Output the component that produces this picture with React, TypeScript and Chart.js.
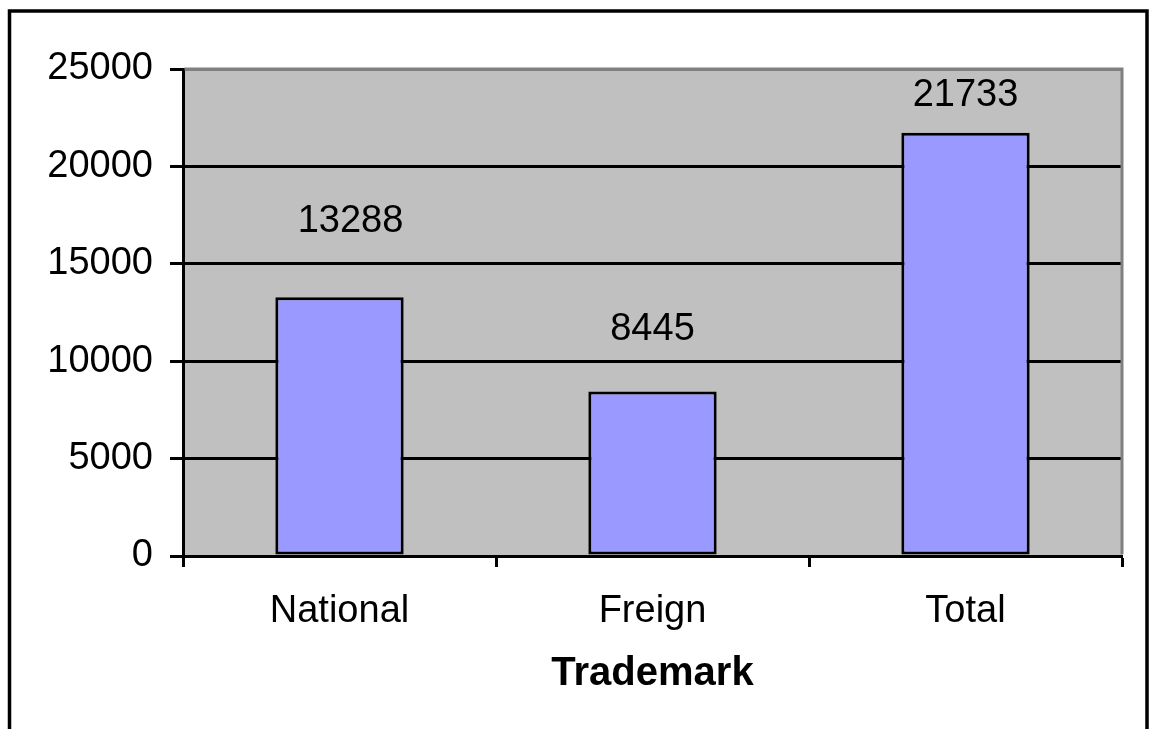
import React, { useEffect, useRef } from "react";
import { Chart, registerables } from "chart.js";

Chart.register(...registerables);

const categories = ["National", "Freign", "Total"];
const values = [13288, 8445, 21733];
const yTicks = [0, 5000, 10000, 15000, 20000, 25000];
const axisTitle = "Trademark";

const FONT = "'Liberation Sans', Arial, sans-serif";
const FS = 38;

const framePlugin = {
  id: "framePlugin",
  beforeDraw(chart: any) {
    const { ctx, chartArea } = chart;
    ctx.save();
    ctx.fillStyle = "#ffffff";
    ctx.fillRect(0, 0, chart.width, chart.height);
    ctx.fillStyle = "#C0C0C0";
    ctx.fillRect(chartArea.left, chartArea.top, chartArea.right - chartArea.left, chartArea.bottom - chartArea.top);
    ctx.strokeStyle = "#000000";
    ctx.lineWidth = 3.5;
    ctx.strokeRect(9.5, 11, 1137.5, 800);
    ctx.restore();
  },
  afterDraw(chart: any) {
    const { ctx, chartArea } = chart;
    ctx.save();
    ctx.strokeStyle = "#808080";
    ctx.lineWidth = 3;
    ctx.beginPath();
    ctx.moveTo(chartArea.left + 1.5, chartArea.top);
    ctx.lineTo(chartArea.right, chartArea.top);
    ctx.lineTo(chartArea.right, chartArea.bottom - 1.5);
    ctx.stroke();
    ctx.restore();
  },
};

const labelDx = [11, 0, 0];
const labelDy = [76, 62, 37];

const labelPlugin = {
  id: "labelPlugin",
  afterDatasetsDraw(chart: any) {
    const { ctx } = chart;
    const meta = chart.getDatasetMeta(0);
    ctx.save();
    ctx.font = `${FS}px ${FONT}`;
    ctx.fillStyle = "#000000";
    ctx.textAlign = "center";
    ctx.textBaseline = "middle";
    meta.data.forEach((bar: any, i: number) => {
      ctx.fillText(String(values[i]), bar.x + labelDx[i], bar.y - labelDy[i]);
    });
    ctx.restore();
  },
};

export default function App() {
  const ref = useRef<HTMLCanvasElement>(null);
  useEffect(() => {
    if (!ref.current) return;
    const chart = new Chart(ref.current, {
      type: "bar",
      data: {
        labels: categories,
        datasets: [
          {
            data: values,
            backgroundColor: "#9999FF",
            borderColor: "#000000",
            borderWidth: 3,
            borderSkipped: false,
            categoryPercentage: 1,
            barPercentage: 0.41,
          },
        ],
      },
      options: {
        animation: false,
        responsive: false,
        layout: { padding: { left: 0, top: 69, right: 27, bottom: 0 } },
        plugins: { legend: { display: false }, tooltip: { enabled: false } },
        scales: {
          x: {
            offset: true,
            afterFit: (s: any) => {
              s.height = 729 - 556;
            },
            grid: {
              offset: true,
              drawOnChartArea: false,
              drawTicks: true,
              tickLength: 11,
              tickColor: "#000000",
              tickWidth: 3,
            },
            border: { display: true, color: "#000000", width: 3 },
            ticks: {
              color: "#000000",
              font: { family: FONT, size: FS, lineHeight: 1 },
              padding: 26,
              maxRotation: 0,
            },
            title: {
              display: true,
              text: axisTitle,
              color: "#000000",
              font: { family: FONT, size: 40, weight: "bold", lineHeight: 1 },
              padding: { top: 0, bottom: 35 },
            },
          },
          y: {
            min: 0,
            max: 25000,
            afterFit: (s: any) => {
              s.width = 183;
            },
            afterBuildTicks: (s: any) => {
              s.ticks = yTicks.map((v) => ({ value: v }));
            },
            grid: {
              color: (c: any) => (c.tick && c.tick.value === 25000 ? "#808080" : "#000000"),
              lineWidth: 3,
              drawTicks: true,
              tickLength: 13,
              tickColor: "#000000",
              tickWidth: 3,
            },
            border: { display: true, color: "#000000", width: 3 },
            ticks: {
              color: "#000000",
              font: { family: FONT, size: FS, lineHeight: 1 },
              padding: 17,
              callback: (v: any) => String(v),
            },
          },
        },
      },
      plugins: [framePlugin, labelPlugin],
    });
    return () => chart.destroy();
  }, []);
  return (
    <div style={{ position: "fixed", left: 0, top: 0, width: 1149, height: 729 }}>
      <canvas ref={ref} width={1149} height={729} style={{ display: "block" }} />
    </div>
  );
}
